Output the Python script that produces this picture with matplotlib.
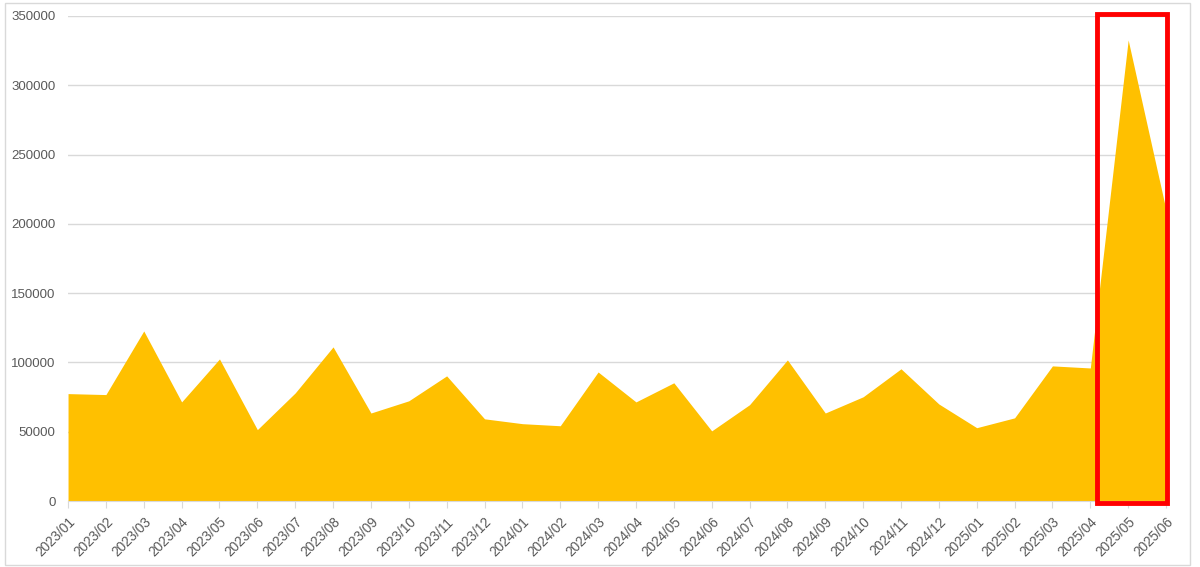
import matplotlib.pyplot as plt
from matplotlib.patches import Rectangle

months = ["2023/01", "2023/02", "2023/03", "2023/04", "2023/05", "2023/06",
          "2023/07", "2023/08", "2023/09", "2023/10", "2023/11", "2023/12",
          "2024/01", "2024/02", "2024/03", "2024/04", "2024/05", "2024/06",
          "2024/07", "2024/08", "2024/09", "2024/10", "2024/11", "2024/12",
          "2025/01", "2025/02", "2025/03", "2025/04", "2025/05", "2025/06"]
values = [77500, 76800, 122700, 71500, 102500, 51500,
          78000, 111200, 63500, 72300, 90300, 59300,
          55800, 54300, 93100, 71500, 85300, 50600,
          69500, 101800, 63500, 75200, 95400, 70000,
          52900, 60000, 97500, 96000, 332700, 210000]
yticks = [0, 50000, 100000, 150000, 200000, 250000, 300000, 350000]

plt.rcParams['font.family'] = ['Liberation Sans', 'DejaVu Sans']

fig = plt.figure(figsize=(12, 5.67), dpi=100)
ax = fig.add_axes([0.0567, 0.1164, 0.915, 0.8554])

x = list(range(len(months)))
ax.fill_between(x, values, 0, color='#FFC000', linewidth=0, zorder=2)

ax.set_xlim(0, len(months) - 1)
ax.set_ylim(0, 350000)
ax.set_yticks(yticks)
ax.set_yticklabels([str(v) for v in yticks])
ax.set_xticks(x)
ax.set_xticklabels(months, rotation=45, ha='right', va='top', rotation_mode='anchor')

ax.grid(axis='y', color='#D9D9D9', linewidth=1, zorder=0)
for s in ['left', 'right', 'top']:
    ax.spines[s].set_visible(False)
ax.spines['bottom'].set_color('#D9D9D9')
ax.spines['bottom'].set_zorder(3)
ax.tick_params(axis='y', length=0, pad=9, labelsize=9.5, labelcolor='#595959')
ax.tick_params(axis='x', length=5, color='#D9D9D9', pad=5, labelsize=9.8, labelcolor='#595959')

# red highlight box around the last two months
ax.add_patch(Rectangle((27.18, -1500), 1.85, 353000, fill=False,
                       edgecolor='#FF0000', linewidth=3.5, clip_on=False, zorder=5))

# light chart-area frame
fig.patches.append(Rectangle((0.004, 0.004), 0.988, 0.99, transform=fig.transFigure,
                             fill=False, edgecolor='#D9D9D9', linewidth=1))

fig.savefig('out.png', dpi=100)
